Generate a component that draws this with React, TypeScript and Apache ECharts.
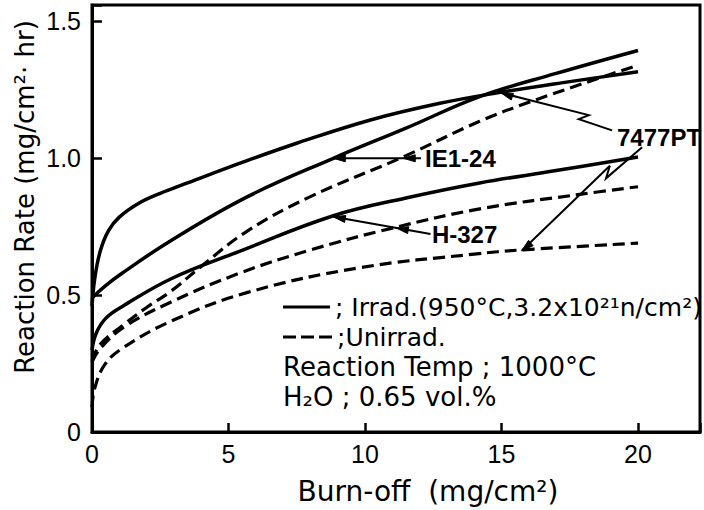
import React, { useEffect, useRef } from "react";
import * as echarts from "echarts";

// ---- axis ticks ----
const xTicks = [0, 5, 10, 15, 20];
const xTickLabels = ["0", "5", "10", "15", "20"];
const yTicks = [0, 0.5, 1.0, 1.5];
const yTickLabels = ["0", "0.5", "1.0", "1.5"];

// ---- series (burn-off mg/cm2, reaction rate mg/cm2.hr) ----
const irrad7477PT: [number, number][] = [
  [0, 0.46], [0.1, 0.56], [0.3, 0.66], [0.6, 0.735], [1.0, 0.785], [1.7, 0.835],
  [2.5, 0.872], [3.5, 0.91], [5.5, 0.985], [7.5, 1.055], [10.2, 1.14], [12.7, 1.2],
  [14.9, 1.24], [17.5, 1.28], [20, 1.316],
];
const irradIE124: [number, number][] = [
  [0, 0.49], [0.5, 0.535], [1.1, 0.58], [2.9, 0.7], [5.7, 0.86], [8.84, 1.0],
  [11.5, 1.11], [14.2, 1.225], [17, 1.31], [20, 1.394],
];
const irradH327: [number, number][] = [
  [0, 0.3], [0.15, 0.36], [0.5, 0.415], [1.1, 0.458], [2.9, 0.56], [5.4, 0.66],
  [8.84, 0.79], [11.5, 0.855], [14.2, 0.91], [17, 0.955], [20, 1.005],
];
const unirradIE124: [number, number][] = [
  [0, 0.26], [0.3, 0.32], [1.2, 0.395], [2.0, 0.455], [2.9, 0.515], [4.0, 0.605],
  [5.7, 0.735], [8, 0.86], [11.4, 1.005], [14.2, 1.135], [16.3, 1.215], [20, 1.34],
];
const unirradH327: [number, number][] = [
  [0, 0.255], [0.3, 0.305], [1.2, 0.385], [2.9, 0.475], [5.4, 0.58], [8, 0.665],
  [11.0, 0.745], [14.2, 0.815], [18, 0.87], [20, 0.896],
];
const unirrad7477PT: [number, number][] = [
  [0, 0.09], [0.1, 0.16], [0.46, 0.245], [1.1, 0.305], [2.9, 0.405], [5.7, 0.51],
  [9.8, 0.6], [14, 0.65], [15.7, 0.665], [20, 0.69],
];

// ---- annotation anchors (data coords) ----
const ie124Label: [number, number] = [12.2, 1.0];
const ie124Leader: [number, number][] = [[12.05, 1.0], [8.84, 1.0]];
const ie124MidArrow: [number, number] = [11.4, 1.0];
const h327Label: [number, number] = [12.45, 0.72];
const h327Leader: [number, number][] = [[12.4, 0.723], [8.84, 0.786]];
const h327MidArrow: [number, number] = [11.15, 0.745];
const pt7477Label: [number, number] = [20.77, 1.077];
const pt7477LeaderTop: [number, number][] = [[19.05, 1.102], [14.98, 1.239]];
const pt7477LeaderBottom: [number, number][] = [[20.15, 1.04], [15.74, 0.662]];

const FONT = '"DejaVu Sans", sans-serif';
const FONT2 = '"Liberation Sans", Arial, sans-serif';

export default function App() {
  const ref = useRef<HTMLDivElement>(null);
  useEffect(() => {
    if (!ref.current) return;
    const chart = echarts.init(ref.current, null, { renderer: "svg" });
    const solid = (name: string, data: [number, number][]) => ({
      type: "line", name, data, smooth: 0.4, symbol: "none",
      lineStyle: { color: "#000", width: 3.5, type: "solid" }, z: 3,
    });
    const dashed = (name: string, data: [number, number][]) => ({
      type: "line", name, data, smooth: 0.4, symbol: "none",
      lineStyle: { color: "#000", width: 3.2, type: [12, 6] }, z: 3,
    });
    const near = (arr: number[], v: number) => arr.findIndex((t) => Math.abs(t - v) < 1e-6);
    chart.setOption({
      animation: false,
      grid: { left: 92, top: 5, right: 4, bottom: 78, show: true, borderColor: "#000", borderWidth: 3 },
      xAxis: {
        type: "value", min: 0, max: 22.27, interval: 5,
        axisLine: { lineStyle: { color: "#000", width: 3 } },
        axisTick: { inside: true, length: 9, lineStyle: { color: "#000", width: 2.5 } },
        axisLabel: {
          margin: 9, fontSize: 25, fontFamily: FONT2, color: "#000",
          formatter: (v: number) => { const i = near(xTicks, v); return i < 0 ? "" : xTickLabels[i]; },
        },
        splitLine: { show: false },
      },
      yAxis: {
        type: "value", min: 0, max: 1.56, interval: 0.5,
        axisLine: { lineStyle: { color: "#000", width: 3 } },
        axisTick: { inside: true, length: 10, lineStyle: { color: "#000", width: 2.5 } },
        axisLabel: {
          margin: 11, fontSize: 25, fontFamily: FONT2, color: "#000",
          formatter: (v: number) => { const i = near(yTicks, v); return i < 0 ? "" : yTickLabels[i]; },
        },
        splitLine: { show: false },
      },
      series: [
        solid("7477PT irrad", irrad7477PT),
        solid("IE1-24 irrad", irradIE124),
        solid("H-327 irrad", irradH327),
        dashed("IE1-24 unirrad", unirradIE124),
        dashed("H-327 unirrad", unirradH327),
        dashed("7477PT unirrad", unirrad7477PT),
      ],
    });

    const px = (p: [number, number]) => chart.convertToPixel({ gridIndex: 0 }, p) as number[];
    const arrowHead = (from: number[], tip: number[], L = 12, w = 3.5) => {
      const dx = tip[0] - from[0], dy = tip[1] - from[1];
      const len = Math.hypot(dx, dy);
      const ux = dx / len, uy = dy / len, nx = -uy, ny = ux;
      const bx = tip[0] - L * ux, by = tip[1] - L * uy;
      return {
        type: "polygon", z: 10,
        shape: { points: [[tip[0], tip[1]], [bx + w * nx, by + w * ny], [bx - w * nx, by - w * ny]] },
        style: { fill: "#000", stroke: "#000", lineWidth: 1 },
      };
    };
    const line = (pts: number[][], lw = 2) => ({
      type: "polyline", z: 10, shape: { points: pts }, style: { stroke: "#000", lineWidth: lw, fill: null },
    });
    const zig = (s: number[], e: number[]) => {
      const d = [e[0] - s[0], e[1] - s[1]];
      const len = Math.hypot(d[0], d[1]);
      const n = [-d[1] / len, d[0] / len];
      const a = [s[0] + 0.3 * d[0], s[1] + 0.3 * d[1]];
      const b = [s[0] + 0.23 * d[0] + 7 * n[0], s[1] + 0.23 * d[1] + 7 * n[1]];
      return line([s, a, b, e]);
    };
    const txt = (text: string, x: number, y: number, font: string, align = "left", rotation = 0) => ({
      type: "text", x, y, rotation, z: 10,
      style: { text, font, fill: "#000", align, verticalAlign: "middle", textAlign: align, textVerticalAlign: "middle" },
    });

    const ieS = px(ie124Leader[0]), ieE = px(ie124Leader[1]), ieM = px(ie124MidArrow);
    const hS = px(h327Leader[0]), hE = px(h327Leader[1]), hM = px(h327MidArrow);
    const tS = px(pt7477LeaderTop[0]), tE = px(pt7477LeaderTop[1]);
    const bS = px(pt7477LeaderBottom[0]), bE = px(pt7477LeaderBottom[1]);
    const ieL = px(ie124Label), hL = px(h327Label), pL = px(pt7477Label);

    const elements: any[] = [
      line([ieS, ieE]), arrowHead(ieS, ieE), arrowHead(ieS, ieM),
      line([hS, hE]), arrowHead(hS, hE), arrowHead(hS, hM),
      zig(tS, tE), arrowHead(tS, tE),
      zig(bS, bE), arrowHead(bS, bE),
      txt("IE1-24", ieL[0], ieL[1], `bold 24px ${FONT2}`),
      txt("H-327", hL[0], hL[1], `bold 24px ${FONT2}`),
      txt("7477PT", pL[0], pL[1], `bold 24px ${FONT2}`, "center"),
      // legend block
      { type: "line", z: 10, shape: { x1: 283, y1: 307, x2: 330, y2: 307 }, style: { stroke: "#000", lineWidth: 3 } },
      txt("; Irrad.(950°C,3.2x10²¹n/cm²)", 335, 307, `25px ${FONT}`),
      { type: "line", z: 10, shape: { x1: 283, y1: 337, x2: 333, y2: 337 }, style: { stroke: "#000", lineWidth: 3, lineDash: [13, 5] } },
      txt(";Unirrad.", 337, 337, `25px ${FONT}`),
      txt("Reaction Temp ; 1000°C", 283, 367, `26px ${FONT}`),
      txt("H₂O ; 0.65 vol.%", 283, 397, `26px ${FONT}`),
      // axis titles
      txt("Burn-off  (mg/cm²)", 428, 491, `28px ${FONT}`, "center"),
      txt("Reaction Rate (mg/cm²· hr)", 25, 197, `26px ${FONT}`, "center", Math.PI / 2),
    ];
    chart.setOption({ graphic: { elements } });
    return () => chart.dispose();
  }, []);
  return <div ref={ref} style={{ position: "absolute", left: 0, top: 0, width: 704, height: 510 }} />;
}
